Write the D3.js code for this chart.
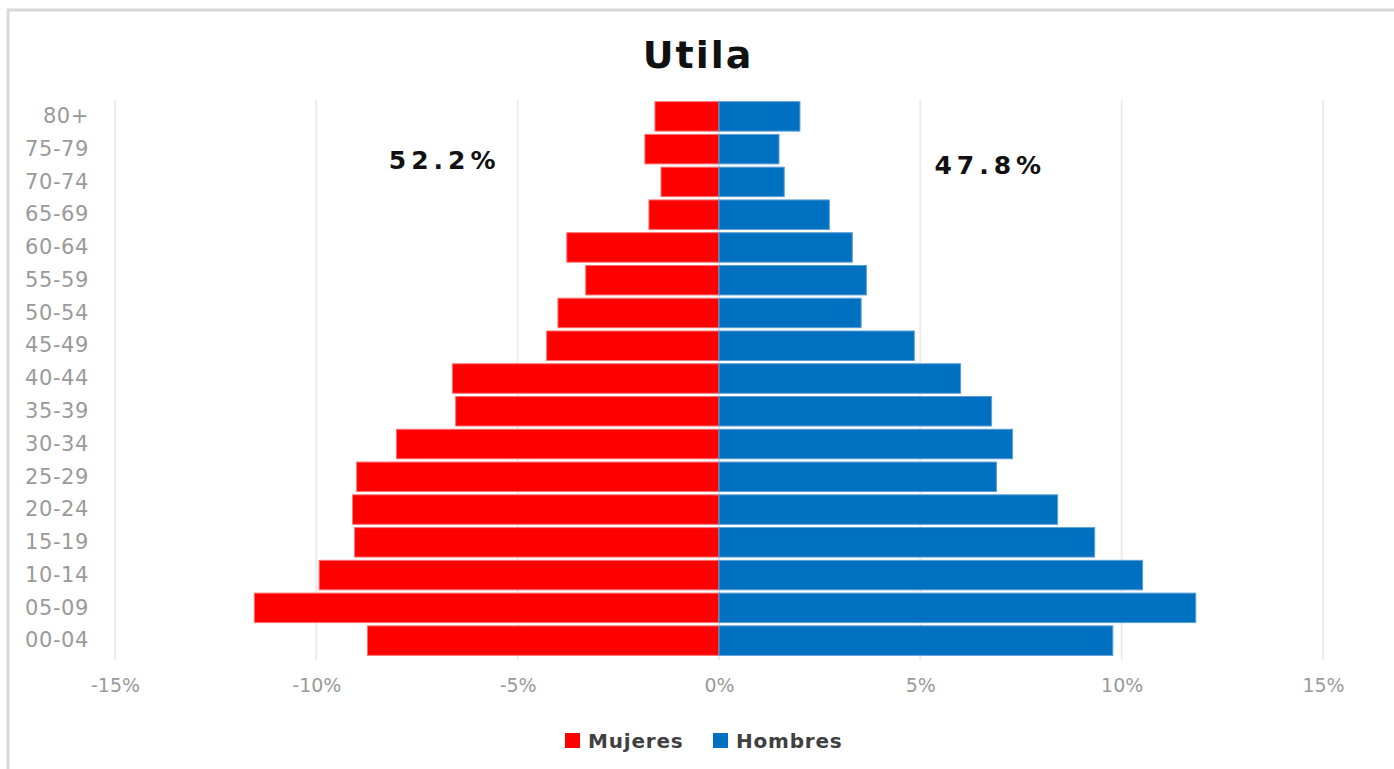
<!DOCTYPE html>
<html>
<head>
<meta charset="utf-8">
<script src="https://cdn.jsdelivr.net/npm/d3@7"></script>
<style>
  body { margin: 0; background: #fff; }
  svg { display: block; font-family: "DejaVu Sans", Verdana, sans-serif; }
</style>
</head>
<body>
<div id="chart"></div>
<script>
// age groups, top to bottom
let ageGroups = ["80+", "75-79", "70-74", "65-69", "60-64", "55-59", "50-54", "45-49",
    "40-44", "35-39", "30-34", "25-29", "20-24", "15-19", "10-14", "05-09", "00-04"];

// percent of total population
let mujeres = [1.59, 1.84, 1.44, 1.74, 3.78, 3.31, 4.0, 4.28,
    6.62, 6.54, 8.01, 9.0, 9.1, 9.05, 9.93, 11.54, 8.73];
let hombres = [2.01, 1.49, 1.62, 2.74, 3.31, 3.66, 3.53, 4.85,
    6.0, 6.77, 7.29, 6.89, 8.41, 9.33, 10.52, 11.84, 9.78];

let xTicks = [-15, -10, -5, 0, 5, 10, 15];
let totals = [{label: "52.2%", side: -1}, {label: "47.8%", side: 1}];
let seriesNames = ["Mujeres", "Hombres"];

let WIDTH = 1394, HEIGHT = 769;
let colors = {Mujeres: "#ff0000", Hombres: "#0070c0"};

let svg = d3.select("#chart").append("svg")
    .attr("width", WIDTH)
    .attr("height", HEIGHT);

// outer frame
svg.append("rect")
    .attr("x", 8).attr("y", 10)
    .attr("width", WIDTH + 10).attr("height", HEIGHT + 10)
    .attr("fill", "none")
    .attr("stroke", "#d9d9d9")
    .attr("stroke-width", 3);

let x = d3.scaleLinear().domain([-15, 15]).range([115, 1323]);
let y = d3.scaleBand().domain(ageGroups).range([100, 657]).paddingInner(0.1).paddingOuter(0.05);

// gridlines
svg.append("g").selectAll("line")
    .data(xTicks)
    .enter()
    .append("line")
    .attr("x1", d => x(d)).attr("x2", d => x(d))
    .attr("y1", 100).attr("y2", 660)
    .attr("stroke", "#ececec")
    .attr("stroke-width", 2);

// bars
let rows = ageGroups.map((g, i) => ({group: g, m: mujeres[i], h: hombres[i]}));

svg.append("g").selectAll("rect")
    .data(rows)
    .enter()
    .append("rect")
    .attr("x", d => x(-d.m))
    .attr("y", d => y(d.group))
    .attr("width", d => x(0) - x(-d.m))
    .attr("height", y.bandwidth())
    .attr("fill", colors.Mujeres)
    .attr("stroke", "#ff7070")
    .attr("stroke-width", 1);

svg.append("g").selectAll("rect")
    .data(rows)
    .enter()
    .append("rect")
    .attr("x", x(0))
    .attr("y", d => y(d.group))
    .attr("width", d => x(d.h) - x(0))
    .attr("height", y.bandwidth())
    .attr("fill", colors.Hombres)
    .attr("stroke", "#5a9fd8")
    .attr("stroke-width", 1);

// category labels
let yAxis = svg.append("g")
    .attr("transform", "translate(89,0)")
    .call(d3.axisLeft(y).tickSize(0).tickPadding(0));
yAxis.select(".domain").remove();
yAxis.selectAll("text")
    .attr("fill", "#9a9a9a")
    .attr("font-size", 21)
    .attr("letter-spacing", 0.6)
    .attr("font-family", "DejaVu Sans, Verdana, sans-serif");

// x axis labels
let xAxis = svg.append("g")
    .attr("transform", "translate(0,675)")
    .call(d3.axisBottom(x).tickValues(xTicks).tickSize(0).tickFormat(d => d + "%"));
xAxis.select(".domain").remove();
xAxis.selectAll("text")
    .attr("fill", "#9a9a9a")
    .attr("font-size", 19)
    .attr("font-family", "DejaVu Sans, Verdana, sans-serif");

// title
svg.append("text")
    .attr("x", 698).attr("y", 68)
    .attr("text-anchor", "middle")
    .attr("font-size", 38)
    .attr("font-weight", "bold")
    .attr("letter-spacing", 2)
    .attr("fill", "#111")
    .text("Utila");

// totals
svg.append("g").selectAll("text")
    .data(totals)
    .enter()
    .append("text")
    .attr("x", d => d.side < 0 ? x(-8.2) : x(5.35))
    .attr("y", d => d.side < 0 ? 169 : 174)
    .attr("font-size", 25)
    .attr("font-weight", "bold")
    .attr("letter-spacing", 5)
    .attr("fill", "#111")
    .text(d => d.label);

// legend
let legend = svg.append("g").selectAll("g")
    .data(seriesNames)
    .enter()
    .append("g")
    .attr("transform", (d, i) => `translate(${565 + i * 148},733)`);

legend.append("rect")
    .attr("width", 15).attr("height", 15)
    .attr("fill", d => colors[d]);

legend.append("text")
    .attr("x", 23).attr("y", 15)
    .attr("font-size", 20)
    .attr("font-weight", "bold")
    .attr("letter-spacing", 0.8)
    .attr("fill", "#404040")
    .text(d => d);
</script>
</body>
</html>
